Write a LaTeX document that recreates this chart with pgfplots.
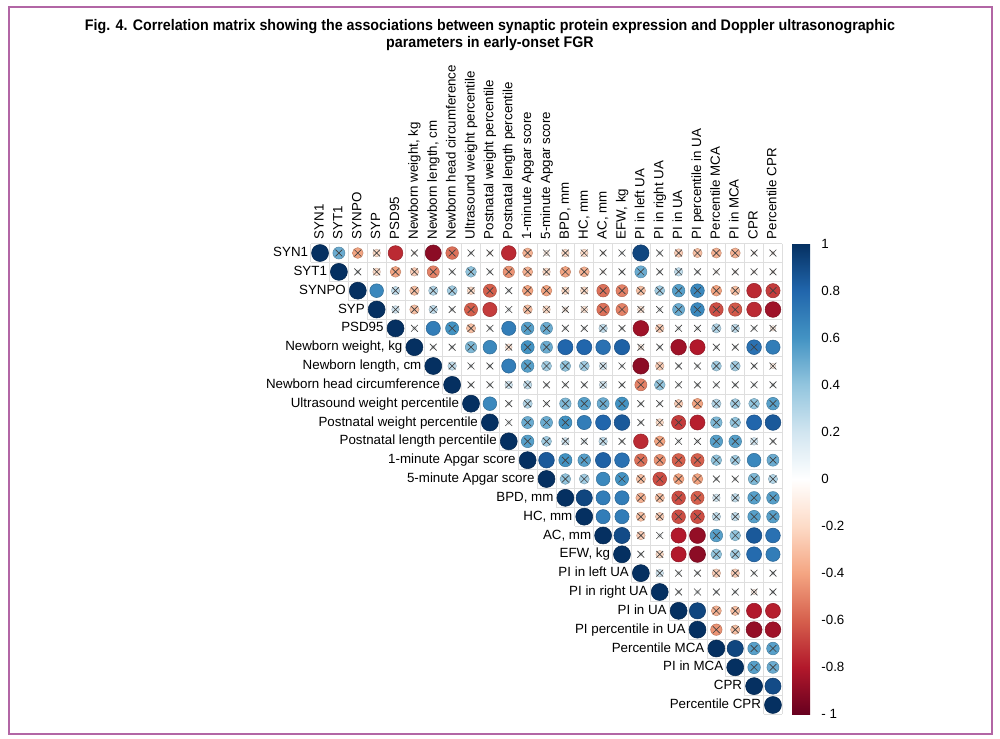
\documentclass[border=0pt]{standalone}
\usepackage{fontspec}
\setmainfont{Liberation Sans}
\newfontfamily\titlefont[FakeStretch=0.93]{Liberation Sans}
\usepackage{pgfplots}
\pgfplotsset{compat=1.18}
\usepackage{pgfplotstable}
\definecolor{framec}{RGB}{178,102,165}
\definecolor{gridc}{RGB}{222,222,222}
\newcommand\lab[1]{\ifcase#1 SYN1\or SYT1\or SYNPO\or SYP\or PSD95\or Newborn weight, kg\or Newborn length, cm\or Newborn head circumference\or Ultrasound weight percentile\or Postnatal weight percentile\or Postnatal length percentile\or 1-minute Apgar score\or 5-minute Apgar score\or BPD, mm\or HC, mm\or AC, mm\or EFW, kg\or PI in left UA\or PI in right UA\or PI in UA\or PI percentile in UA\or Percentile MCA\or PI in MCA\or CPR\or Percentile CPR\fi}
\pgfplotstableread{
i j r c
0 0 1 0
0 1 0.5 1
0 2 -0.4 1
0 3 -0.2 1
0 4 -0.75 0
0 5 -0.05 1
0 6 -0.9 0
0 7 -0.55 1
0 8 0.05 1
0 9 -0.05 1
0 10 -0.75 0
0 11 -0.35 1
0 12 -0.1 1
0 13 -0.2 1
0 14 -0.2 1
0 15 -0.05 1
0 16 0.05 1
0 17 0.92 0
0 18 0.05 1
0 19 -0.25 1
0 20 -0.3 1
0 21 -0.35 1
0 22 -0.35 1
0 23 -0.05 1
0 24 -0.05 1
1 1 1 0
1 2 0.05 1
1 3 -0.2 1
1 4 -0.4 1
1 5 -0.25 1
1 6 -0.5 1
1 7 0.05 1
1 8 0.4 1
1 9 0.05 1
1 10 -0.45 1
1 11 -0.35 1
1 12 -0.2 1
1 13 -0.4 1
1 14 -0.35 1
1 15 -0.05 1
1 16 0.05 1
1 17 0.5 1
1 18 0.05 1
1 19 0.25 1
1 20 0.05 1
1 21 -0.05 1
1 22 -0.05 1
1 23 -0.05 1
1 24 -0.05 1
2 2 1 0
2 3 0.65 0
2 4 0.25 1
2 5 -0.3 1
2 6 0.3 1
2 7 0.35 1
2 8 -0.2 1
2 9 -0.6 1
2 10 0.05 1
2 11 -0.4 1
2 12 -0.4 1
2 13 -0.2 1
2 14 -0.2 1
2 15 -0.55 1
2 16 -0.5 1
2 17 -0.3 1
2 18 0.35 1
2 19 0.55 1
2 20 0.65 1
2 21 -0.4 1
2 22 -0.3 1
2 23 -0.75 0
2 24 -0.7 1
3 3 1 0
3 4 0.2 1
3 5 -0.3 1
3 6 0.25 1
3 7 0.05 1
3 8 -0.6 1
3 9 -0.7 0
3 10 0.05 1
3 11 -0.3 1
3 12 -0.2 1
3 13 -0.1 1
3 14 -0.15 1
3 15 -0.55 1
3 16 -0.5 1
3 17 -0.15 1
3 18 0.05 1
3 19 0.5 1
3 20 0.65 1
3 21 -0.65 1
3 22 -0.62 1
3 23 -0.75 0
3 24 -0.85 0
4 4 1 0
4 5 0.05 1
4 6 0.7 0
4 7 0.6 1
4 8 -0.3 1
4 9 0.05 1
4 10 0.7 0
4 11 0.55 1
4 12 0.5 1
4 13 0.05 1
4 14 0.05 1
4 15 0.25 1
4 16 0.05 1
4 17 -0.85 0
4 18 -0.25 1
4 19 0.05 1
4 20 0.05 1
4 21 0.3 1
4 22 0.25 1
4 23 0.05 1
4 24 -0.1 1
5 5 1 0
5 6 0.05 1
5 7 0.05 1
5 8 0.45 1
5 9 0.65 0
5 10 -0.15 1
5 11 0.6 1
5 12 0.5 1
5 13 0.8 0
5 14 0.8 0
5 15 0.75 0
5 16 0.82 0
5 17 -0.1 1
5 18 0.05 1
5 19 -0.85 0
5 20 -0.8 0
5 21 0.05 1
5 22 0.05 1
5 23 0.75 1
5 24 0.7 0
6 6 1 0
6 7 0.25 1
6 8 0.05 1
6 9 0.05 1
6 10 0.7 0
6 11 0.55 1
6 12 0.35 1
6 13 0.4 1
6 14 0.35 1
6 15 0.2 1
6 16 0.05 1
6 17 -0.9 0
6 18 -0.25 1
6 19 0.05 1
6 20 0.05 1
6 21 0.35 1
6 22 0.35 1
6 23 0.05 1
6 24 -0.1 1
7 7 1 0
7 8 0.05 1
7 9 0.05 1
7 10 0.2 1
7 11 0.25 1
7 12 0.05 1
7 13 0.05 1
7 14 0.05 1
7 15 0.2 1
7 16 0.05 1
7 17 -0.5 1
7 18 0.4 1
7 19 0.05 1
7 20 0.05 1
7 21 0.05 1
7 22 0.05 1
7 23 0.05 1
7 24 0.05 1
8 8 1 0
8 9 0.65 0
8 10 0.05 1
8 11 0.3 1
8 12 0.05 1
8 13 0.45 1
8 14 0.55 1
8 15 0.5 1
8 16 0.6 1
8 17 0.05 1
8 18 0.05 1
8 19 -0.25 1
8 20 -0.4 1
8 21 0.3 1
8 22 0.35 1
8 23 0.4 1
8 24 0.55 1
9 9 1 0
9 10 0.05 1
9 11 0.5 1
9 12 0.5 1
9 13 0.6 1
9 14 0.7 0
9 15 0.8 0
9 16 0.85 0
9 17 0.05 1
9 18 -0.2 1
9 19 -0.7 1
9 20 -0.78 0
9 21 0.45 1
9 22 0.4 1
9 23 0.8 0
9 24 0.85 0
10 10 1 0
10 11 0.55 1
10 12 0.35 1
10 13 0.2 1
10 14 0.1 1
10 15 0.25 1
10 16 0.05 1
10 17 -0.75 0
10 18 -0.4 1
10 19 0.05 1
10 20 0.05 1
10 21 0.55 1
10 22 0.55 1
10 23 0.2 1
10 24 0.05 1
11 11 1 0
11 12 0.85 0
11 13 0.6 1
11 14 0.55 1
11 15 0.82 0
11 16 0.75 0
11 17 -0.55 1
11 18 -0.45 1
11 19 -0.6 1
11 20 -0.6 1
11 21 0.4 1
11 22 0.35 1
11 23 0.65 0
11 24 0.5 1
12 12 1 0
12 13 0.4 1
12 14 0.35 1
12 15 0.65 0
12 16 0.6 1
12 17 -0.3 1
12 18 -0.65 1
12 19 -0.4 1
12 20 -0.4 1
12 21 0.05 1
12 22 0.05 1
12 23 0.45 1
12 24 0.3 1
13 13 1 0
13 14 0.92 0
13 15 0.7 0
13 16 0.7 0
13 17 -0.35 1
13 18 -0.3 1
13 19 -0.65 1
13 20 -0.6 1
13 21 0.2 1
13 22 0.25 1
13 23 0.55 1
13 24 0.55 1
14 14 1 0
14 15 0.7 0
14 16 0.7 0
14 17 -0.3 1
14 18 -0.25 1
14 19 -0.65 1
14 20 -0.65 1
14 21 0.25 1
14 22 0.25 1
14 23 0.55 1
14 24 0.55 1
15 15 1 0
15 16 0.9 0
15 17 -0.25 1
15 18 0.05 1
15 19 -0.8 0
15 20 -0.88 0
15 21 0.55 1
15 22 0.4 1
15 23 0.85 0
15 24 0.75 0
16 16 1 0
16 17 0.05 1
16 18 -0.2 1
16 19 -0.8 0
16 20 -0.9 0
16 21 0.4 1
16 22 0.35 1
16 23 0.78 0
16 24 0.7 0
17 17 1 0
17 18 0.2 1
17 19 0.05 1
17 20 0.05 1
17 21 -0.25 1
17 22 -0.25 1
17 23 0.05 1
17 24 0.05 1
18 18 1 0
18 19 0.05 1
18 20 0.05 1
18 21 0.05 1
18 22 0.05 1
18 23 -0.1 1
18 24 0.05 1
19 19 1 0
19 20 0.92 0
19 21 -0.35 1
19 22 -0.3 1
19 23 -0.8 0
19 24 -0.78 0
20 20 1 0
20 21 -0.45 1
20 22 -0.3 1
20 23 -0.88 0
20 24 -0.85 0
21 21 1 0
21 22 0.92 0
21 23 0.55 1
21 24 0.55 1
22 22 1 0
22 23 0.55 1
22 24 0.5 1
23 23 1 0
23 24 0.9 0
24 24 1 0
}\corr
\begin{document}
\begin{tikzpicture}[x=0.75pt,y=0.75pt]
\useasboundingbox (0,0) rectangle (1000,739);
\draw[framec, line width=1.1pt] (9,732) rectangle (992,5);
\node[font=\titlefont\bfseries\fontsize{11.5}{13}\selectfont, anchor=base] at (490,708) {Fig. 4. Correlation matrix showing the associations between synaptic protein expression and Doppler ultrasonographic};
\node[font=\titlefont\bfseries\fontsize{11.5}{13}\selectfont, anchor=base] at (490,691) {parameters in early-onset FGR};
\begin{axis}[
  at={(232.95pt,18.45pt)}, anchor=south west,
  scale only axis, width=353.85pt, height=353.1pt,
  xmin=-0.5, xmax=24.5, ymin=-0.5, ymax=24.5, y dir=reverse,
  xtick=\empty, ytick=\empty, axis line style={draw=none},
  clip=false,
  colormap={rdbu}{rgb255=(103,0,31) rgb255=(178,24,43) rgb255=(214,96,77) rgb255=(244,165,130) rgb255=(253,219,199) rgb255=(255,255,255) rgb255=(209,229,240) rgb255=(146,197,222) rgb255=(67,147,195) rgb255=(33,102,172) rgb255=(5,48,97)},
  point meta min=-1, point meta max=1,
  colorbar,
  colorbar style={at={(parent axis.north east)}, anchor=north west, xshift=-1.3pt, width=13.5pt,
    ytick={-1,-0.8,-0.6,-0.4,-0.2,0,0.2,0.4,0.6,0.8,1},
    yticklabels={- 1,-0.8,-0.6,-0.4,-0.2,0,0.2,0.4,0.6,0.8,1},
    yticklabel style={font=\fontsize{10}{12}\selectfont, xshift=5pt},
    major tick length=0pt, axis line style={draw=none}},
]
\pgfplotsinvokeforeach{0,...,25}{
  \draw[gridc, line width=0.5pt] (axis cs:{max(#1-1.5,-0.5)},{#1-0.5}) -- (axis cs:24.5,{#1-0.5});
  \draw[gridc, line width=0.5pt] (axis cs:{#1-0.5},-0.5) -- (axis cs:{#1-0.5},{min(#1+0.5,24.5)});
}
\addplot[scatter, only marks, mark=*, scatter src=explicit,
  visualization depends on={6.37*sqrt(abs(\thisrow{r})) \as \rad},
  scatter/@pre marker code/.append style={/tikz/mark size=\rad}]
  table[x=j, y=i, meta=r] {\corr};
\addplot[only marks, mark=x, mark size=3.6pt, mark options={draw=black!75, line width=0.5pt},
  restrict expr to domain={\thisrow{c}}{0.5:2}]
  table[x=j, y=i] {\corr};
\pgfplotsinvokeforeach{0,...,24}{
  \node[anchor=mid east, inner sep=0pt, font=\fontsize{10}{12}\selectfont] at (axis cs:{#1-0.62},#1) {\lab{#1}};
  \node[rotate=90, anchor=mid west, inner sep=0pt, font=\fontsize{10}{12}\selectfont] at (axis cs:#1,-0.72) {\lab{#1}};
}
\end{axis}
\end{tikzpicture}
\end{document}
